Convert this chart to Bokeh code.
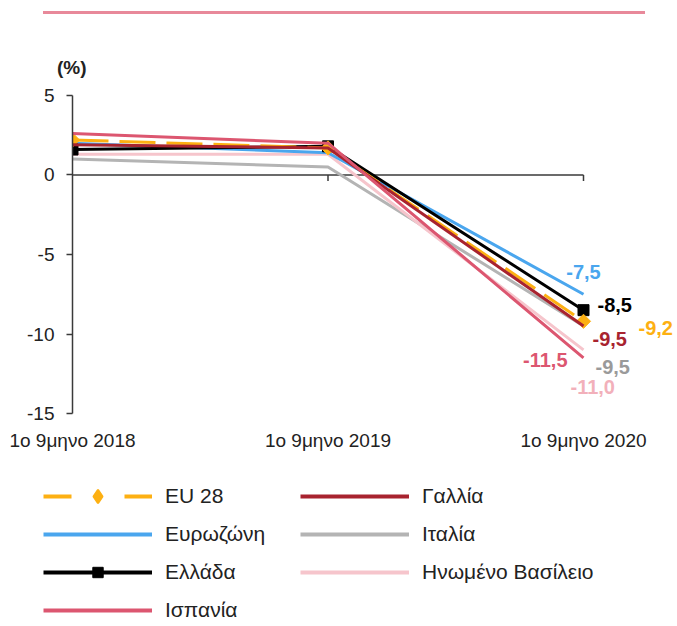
import math
from bokeh.plotting import figure
from bokeh.models import (Legend, LegendItem, Div, FixedTicker, Range1d, LinearAxis)
from bokeh.embed import file_html
from bokeh.resources import INLINE
from bokeh.core.properties import value

# ---------------- data ----------------
periods = ["1ο 9μηνο 2018", "1ο 9μηνο 2019", "1ο 9μηνο 2020"]
x_pos = [0, 1, 2]
y_ticks = [-15, -10, -5, 0, 5]

eu28 = [2.2, 1.7, -9.2]
eurozone = [2.0, 1.4, -7.5]
greece = [1.6, 1.8, -8.5]
spain = [2.6, 2.0, -11.5]
france = [1.9, 1.7, -9.5]
italy = [1.0, 0.5, -9.5]
uk = [1.3, 1.3, -11.0]

FONT = "Liberation Sans"

styles = {
    "EU 28": dict(vals=eu28, color="#FDB012", dash="36 11", marker="square", angle=math.pi / 4,
                  msize=10, lcolor="#FDB012", align="left", dx=55, dy=7),
    "Ευρωζώνη": dict(vals=eurozone, color="#4AA6EE", dash="solid", marker=None, angle=0,
                     msize=0, lcolor="#4AA6EE", align="center", dx=0, dy=-22),
    "Ελλάδα": dict(vals=greece, color="#000000", dash="solid", marker="square", angle=0,
                   msize=11, lcolor="#000000", align="left", dx=14, dy=-5),
    "Ισπανία": dict(vals=spain, color="#DC5670", dash="solid", marker=None, angle=0,
                    msize=0, lcolor="#DC5670", align="right", dx=-16, dy=2),
    "Γαλλία": dict(vals=france, color="#A8232F", dash="solid", marker=None, angle=0,
                   msize=0, lcolor="#A8232F", align="left", dx=9, dy=13),
    "Ιταλία": dict(vals=italy, color="#B4B4B4", dash="solid", marker=None, angle=0,
                   msize=0, lcolor="#9A9A9A", align="left", dx=12, dy=41),
    "Ηνωμένο Βασίλειο": dict(vals=uk, color="#F6C5CC", dash="solid", marker=None, angle=0,
                             msize=0, lcolor="#F2B0BA", align="left", dx=-13, dy=37),
}
draw_order = ["Ιταλία", "Ηνωμένο Βασίλειο", "Ευρωζώνη", "Ελλάδα", "EU 28", "Γαλλία", "Ισπανία"]
legend_first = ["EU 28"]
legend_col1 = ["Ευρωζώνη", "Ελλάδα", "Ισπανία"]
legend_col2 = ["Γαλλία", "Ιταλία", "Ηνωμένο Βασίλειο"]

# ---------------- header (rule + unit) ----------------
header = Div(
    width=677, height=78, margin=(0, 0, 0, 0),
    text=(
        '<div style="position:relative;width:677px;height:78px;">'
        '<div style="position:absolute;left:43px;top:11px;width:602px;height:3px;background:#E8899A;"></div>'
        '<div style="position:absolute;left:57px;top:57px;font-family:\'Liberation Sans\';'
        'font-weight:bold;font-size:19px;line-height:22px;color:#222;">(%)</div>'
        '</div>'
    ),
)

# ---------------- main chart ----------------
p = figure(width=677, height=382,
           x_range=Range1d(0, 2.3679), y_range=Range1d(-15.5, 5.5),
           output_backend="svg", toolbar_location=None,
           x_axis_location=None, y_axis_location=None,
           min_border_left=72, min_border_right=0, min_border_top=9, min_border_bottom=39)
p.grid.visible = False
p.outline_line_color = None

axis_color = "#3a3a3a"
yaxis = LinearAxis(bounds=(y_ticks[0], y_ticks[-1]), ticker=FixedTicker(ticks=y_ticks),
                   major_label_overrides={t: str(t) for t in y_ticks})
yaxis.axis_line_color = axis_color
yaxis.axis_line_width = 1.5
yaxis.major_tick_line_color = axis_color
yaxis.major_tick_line_width = 1.5
yaxis.major_tick_in = 0
yaxis.major_tick_out = 6
yaxis.minor_tick_line_color = None
yaxis.major_label_standoff = 12
yaxis.major_label_text_font = FONT
yaxis.major_label_text_font_size = "19px"
yaxis.major_label_text_color = "#222222"
p.add_layout(yaxis, "left")

xaxis = LinearAxis(ticker=FixedTicker(ticks=x_pos),
                   major_label_overrides={xp: lab for xp, lab in zip(x_pos, periods)})
xaxis.axis_line_color = None
xaxis.major_tick_line_color = None
xaxis.minor_tick_line_color = None
xaxis.major_tick_in = 0
xaxis.major_tick_out = 0
xaxis.major_label_standoff = 8
xaxis.major_label_text_font = FONT
xaxis.major_label_text_font_size = "19px"
xaxis.major_label_text_color = "#222222"
p.add_layout(xaxis, "below")

# zero line with ticks
p.segment(x0=[x_pos[0]], y0=[0], x1=[x_pos[-1]], y1=[0], line_color=axis_color, line_width=1.5)
p.ray(x=x_pos[1:], y=[0] * (len(x_pos) - 1), length=6, length_units="screen",
      angle=-math.pi / 2, line_color=axis_color, line_width=1.5)

for name in draw_order:
    s = styles[name]
    p.line(x_pos, s["vals"], line_color=s["color"], line_width=3, line_dash=s["dash"])
    if s["marker"]:
        p.scatter(x_pos, s["vals"], marker=s["marker"], size=s["msize"], angle=s["angle"],
                  fill_color=s["color"], line_color=s["color"])

for name in draw_order:
    s = styles[name]
    v = s["vals"][-1]
    p.text(x=[x_pos[-1]], y=[v], text=[f"{v:.1f}".replace(".", ",")],
           x_offset=s["dx"], y_offset=s["dy"], text_align=s["align"],
           text_baseline="middle", text_font=value(FONT), text_font_style="bold",
           text_font_size="20px", text_color=s["lcolor"])

# ---------------- legend (separate panel; series drawn off-range) ----------------
pl = figure(width=677, height=164, x_range=Range1d(0, 1), y_range=Range1d(100, 101),
            output_backend="svg", toolbar_location=None,
            x_axis_location=None, y_axis_location=None, min_border=0)
pl.grid.visible = False
pl.outline_line_color = None

leg_items = {}
for name in legend_first + legend_col1 + legend_col2:
    s = styles[name]
    dash = "28 53" if s["dash"] != "solid" else "solid"
    rs = [pl.line(x_pos, s["vals"], line_color=s["color"], line_width=4, line_dash=dash)]
    if s["marker"]:
        lmarker = "diamond" if s["angle"] else s["marker"]
        rs.append(pl.scatter(x_pos, s["vals"], marker=lmarker, size=s["msize"],
                             fill_color=s["color"], line_color=s["color"],
                             line_width=2 if s["angle"] else 1))
    leg_items[name] = LegendItem(label=name, renderers=rs)


def make_legend(names, loc, glyph_h=26):
    lg = Legend(items=[leg_items[n] for n in names], location=loc)
    lg.glyph_width = 109
    lg.glyph_height = glyph_h
    lg.label_height = 24
    lg.label_standoff = 13
    lg.spacing = 12
    lg.padding = 0
    lg.margin = 0
    lg.border_line_color = None
    lg.background_fill_alpha = 0
    lg.label_text_font = FONT
    lg.label_text_font_size = "21px"
    lg.label_text_color = "#222222"
    lg.label_text_baseline = "middle"
    return lg


pl.add_layout(make_legend(legend_first, (43, 111), glyph_h=34))
pl.add_layout(make_legend(legend_col1, (43, 1)))
pl.add_layout(make_legend(legend_col2, (300, 39)))

open("out.html", "w").write(file_html([header, p, pl], INLINE))
